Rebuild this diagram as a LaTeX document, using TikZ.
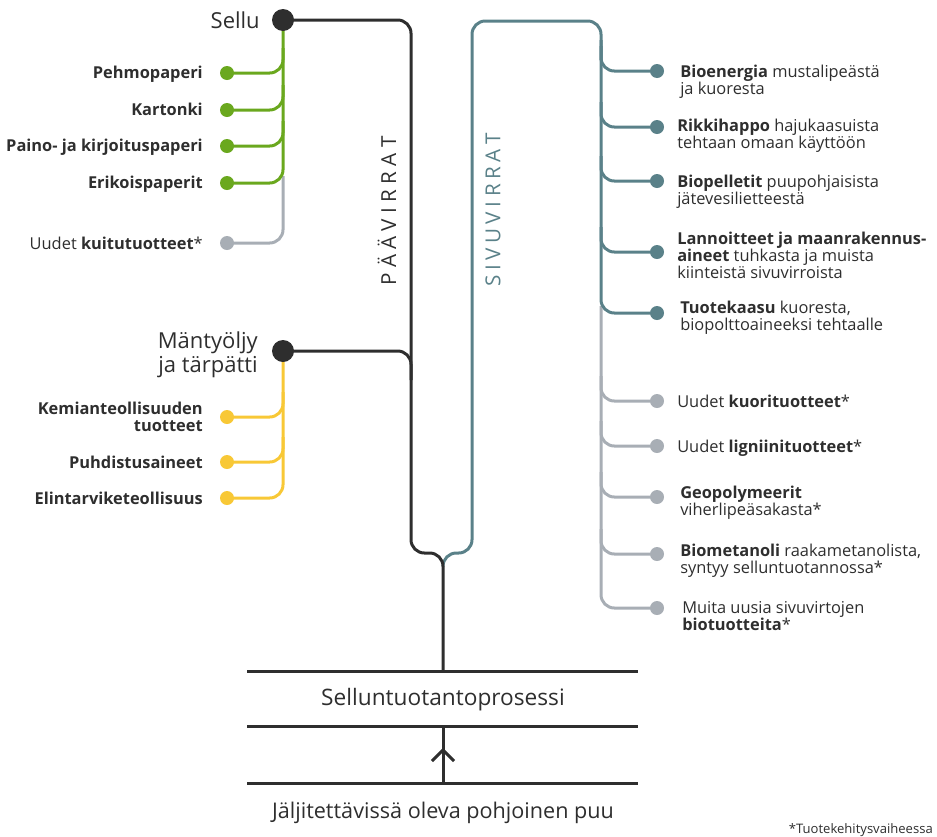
\documentclass[tikz,border=0pt]{standalone}
\usepackage{fontspec}
\setmainfont{Open Sans}
\definecolor{ink}{RGB}{46,46,46}
\definecolor{lgreen}{RGB}{106,168,30}
\definecolor{lyellow}{RGB}{248,200,54}
\definecolor{lteal}{RGB}{90,129,137}
\definecolor{lgray}{RGB}{168,174,181}
\newcommand\lsp{\hspace{4pt}}
\newcommand\lspb{\hspace{3.4pt}}
\begin{document}
\begin{tikzpicture}[x=0.75pt,y=-0.75pt,
  line/.style={line width=2.25pt},
  dotnode/.style={circle, fill=#1, inner sep=0pt, minimum size=10.5pt},
  bigdot/.style={circle, fill=ink, inner sep=0pt, minimum size=16.5pt},
  rlab/.style={anchor=base west, align=left, inner sep=0pt, text=ink, font={\fontsize{12.3}{12.7}\selectfont}},
  llab/.style={anchor=base east, align=right, inner sep=0pt, text=ink, font={\fontsize{12.3}{12.7}\selectfont\bfseries}},
  big/.style={inner sep=0pt, text=ink, font={\fontsize{16.5}{18}\selectfont}},
  bottom/.style={anchor=base, inner sep=0pt, text=ink, font={\fontsize{17}{19}\selectfont}},
  vert/.style={rotate=90, inner sep=0pt, font={\fontsize{15.5}{16}\selectfont}}
]
\useasboundingbox (0,0) rectangle (937,836);

% ---------- coordinates ----------
\coordinate (sellu) at (283,20);
\coordinate (mant) at (283,351);
\coordinate (bar1) at (443,671);
\coordinate (bar2) at (443,726);
\coordinate (bar3) at (443,783);
\coordinate (b1l) at (247,671); \coordinate (b1r) at (638,671);
\coordinate (b2l) at (247,726); \coordinate (b2r) at (638,726);
\coordinate (b3l) at (247,783); \coordinate (b3r) at (638,783);
\coordinate (chL) at (432,761); \coordinate (chT) at (443,750); \coordinate (chR) at (454,761);
\coordinate (tealstart) at (443,566);

% left dots
\coordinate (pPehmo) at (227,73);
\coordinate (pKarto) at (227,110);
\coordinate (pPaino) at (227,146);
\coordinate (pEriko) at (227,183);
\coordinate (pKuitu) at (227,243);
\coordinate (pKemia) at (227,417);
\coordinate (pPuhdi) at (227,462);
\coordinate (pElint) at (227,498);
% right dots
\coordinate (pBioen) at (657,71);
\coordinate (pRikki) at (657,127);
\coordinate (pPelle) at (657,181);
\coordinate (pLanno) at (657,252);
\coordinate (pKaasu) at (657,313);
\coordinate (pKuori) at (657,401);
\coordinate (pLigni) at (657,446);
\coordinate (pGeopo) at (657,497);
\coordinate (pMeta) at (657,554);
\coordinate (pMuita) at (657,608);

% ---------- main streams ----------
\draw[line, lteal, rounded corners=10pt] (tealstart) -- (443,553) -- (472,553) -- (472,21) -- (601,21) -- (601,60);
\draw[line, ink, rounded corners=10pt] (sellu) -- (411,20) -- (411,553) -- (443,553) -- (bar1);
\draw[line, ink, rounded corners=10pt] (mant) -- (411,351) -- (411,380);

% bottom bars
\draw[line, ink] (b1l) -- (b1r);
\draw[line, ink] (b2l) -- (b2r);
\draw[line, ink] (b3l) -- (b3r);
\draw[line, ink] (bar3) -- (bar2);
\draw[line, ink] (chL) -- (chT) -- (chR);

% ---------- left: Sellu ----------
\draw[line, lgray, rounded corners=10pt] (283,176) |- (pKuitu);
\draw[line, lgreen, rounded corners=10pt] (sellu) |- (pEriko);
\draw[line, lgreen, rounded corners=10pt] (283,48) |- (pPehmo);
\draw[line, lgreen, rounded corners=10pt] (283,85) |- (pKarto);
\draw[line, lgreen, rounded corners=10pt] (283,121) |- (pPaino);

% ---------- left: Mantyoljy ----------
\draw[line, lyellow, rounded corners=10pt] (mant) |- (pElint);
\draw[line, lyellow, rounded corners=10pt] (283,392) |- (pKemia);
\draw[line, lyellow, rounded corners=10pt] (283,437) |- (pPuhdi);

% ---------- right: side streams ----------
\draw[line, lgray, rounded corners=10pt] (601,306) |- (pMuita);
\draw[line, lgray, rounded corners=10pt] (601,376) |- (pKuori);
\draw[line, lgray, rounded corners=10pt] (601,421) |- (pLigni);
\draw[line, lgray, rounded corners=10pt] (601,472) |- (pGeopo);
\draw[line, lgray, rounded corners=10pt] (601,529) |- (pMeta);
\draw[line, lteal, rounded corners=10pt] (601,40) |- (pKaasu);
\draw[line, lteal, rounded corners=10pt] (601,46) |- (pBioen);
\draw[line, lteal, rounded corners=10pt] (601,102) |- (pRikki);
\draw[line, lteal, rounded corners=10pt] (601,156) |- (pPelle);
\draw[line, lteal, rounded corners=10pt] (601,227) |- (pLanno);

% ---------- dots ----------
\node[bigdot] (dSellu) at (sellu) {};
\node[bigdot] (dMant) at (mant) {};
\node[dotnode=lgreen] (dPehmo) at (pPehmo) {};
\node[dotnode=lgreen] (dKarto) at (pKarto) {};
\node[dotnode=lgreen] (dPaino) at (pPaino) {};
\node[dotnode=lgreen] (dEriko) at (pEriko) {};
\node[dotnode=lgray] (dKuitu) at (pKuitu) {};
\node[dotnode=lyellow] (dKemia) at (pKemia) {};
\node[dotnode=lyellow] (dPuhdi) at (pPuhdi) {};
\node[dotnode=lyellow] (dElint) at (pElint) {};
\node[dotnode=lteal] (dBioen) at (pBioen) {};
\node[dotnode=lteal] (dRikki) at (pRikki) {};
\node[dotnode=lteal] (dPelle) at (pPelle) {};
\node[dotnode=lteal] (dLanno) at (pLanno) {};
\node[dotnode=lteal] (dKaasu) at (pKaasu) {};
\node[dotnode=lgray] (dKuori) at (pKuori) {};
\node[dotnode=lgray] (dLigni) at (pLigni) {};
\node[dotnode=lgray] (dGeopo) at (pGeopo) {};
\node[dotnode=lgray] (dMeta) at (pMeta) {};
\node[dotnode=lgray] (dMuita) at (pMuita) {};

% ---------- texts (multi-line: anchor at last baseline) ----------
\node[big, anchor=base east] (tSellu) at (260,28) {Sellu};
\node[big, anchor=base east, align=right] (tMant) at (258,372) {Mäntyöljy\\ja tärpätti};

\node[llab] (tPehmo) at (203,78) {Pehmopaperi};
\node[llab] (tKarto) at (203,115) {Kartonki};
\node[llab] (tPaino) at (203,151) {Paino- ja kirjoituspaperi};
\node[llab] (tEriko) at (203,188) {Erikoispaperit};
\node[llab] (tKuitu) at (203,249) {\mdseries Uudet \bfseries kuitutuotteet\mdseries*};
\node[llab] (tKemia) at (203,431) {Kemianteollisuuden\\tuotteet};
\node[llab] (tPuhdi) at (203,468) {Puhdistusaineet};
\node[llab] (tElint) at (203,504) {Elintarviketeollisuus};

\node[rlab] (tBioen) at (680,94) {\textbf{Bioenergia} mustalipeästä\\ja kuoresta};
\node[rlab] (tRikki) at (677,148) {\textbf{Rikkihappo} hajukaasuista\\tehtaan omaan käyttöön};
\node[rlab] (tPelle) at (677,204) {\textbf{Biopelletit} puupohjaisista\\jätevesilietteestä};
\node[rlab] (tLanno) at (677,278) {\textbf{Lannoitteet ja maanrakennus-}\\\textbf{aineet} tuhkasta ja muista\\kiinteistä sivuvirroista};
\node[rlab] (tKaasu) at (680,330) {\textbf{Tuotekaasu} kuoresta,\\biopolttoaineeksi tehtaalle};
\node[rlab] (tKuori) at (677,407) {Uudet \textbf{kuorituotteet}*};
\node[rlab] (tLigni) at (677,452) {Uudet \textbf{ligniinituotteet}*};
\node[rlab] (tGeopo) at (680,515) {\textbf{Geopolymeerit}\\viherlipeäsakasta*};
\node[rlab] (tMeta) at (680,573) {\textbf{Biometanoli} raakametanolista,\\syntyy selluntuotannossa*};
\node[rlab] (tMuita) at (682,630) {Muita uusia sivuvirtojen\\\textbf{biotuotteita}*};

\node[vert, text=ink] (tPaa) at (387,211) {P\lsp Ä\lsp Ä\lsp V\lsp I\lsp R\lsp R\lsp A\lsp T};
\node[vert, text=lteal] (tSivu) at (493,210) {S\lspb I\lspb V\lspb U\lspb V\lspb I\lspb R\lspb R\lspb A\lspb T};

\node[bottom] (tProc) at (443,705) {Selluntuotantoprosessi};
\node[bottom, font={\fontsize{16.2}{19}\selectfont}] (tPuu) at (443,818) {Jäljitettävissä oleva pohjoinen puu};
\node[anchor=base east, inner sep=0pt, text=ink, font={\fontsize{9.8}{11}\selectfont}] (tNote) at (933,833) {*Tuotekehitysvaiheessa};
\end{tikzpicture}
\end{document}
